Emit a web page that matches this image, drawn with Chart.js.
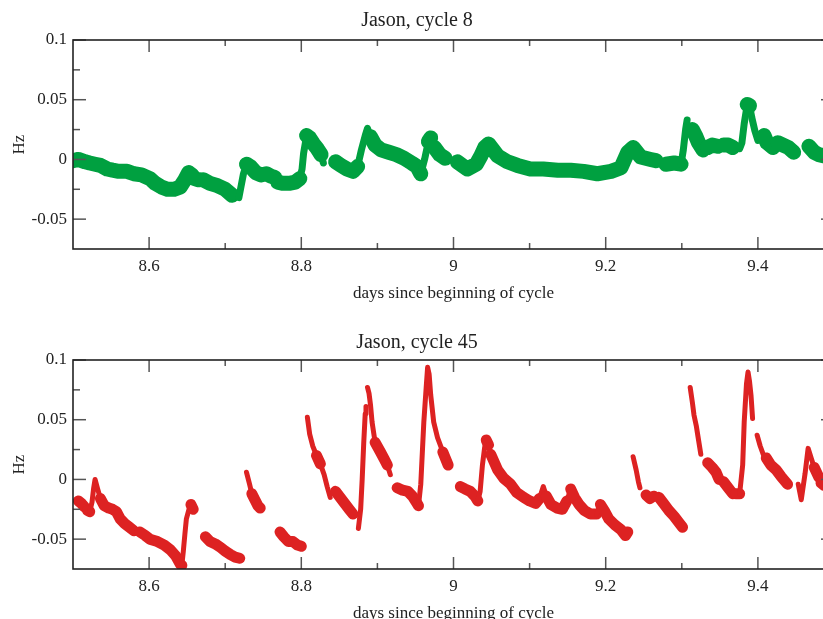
<!DOCTYPE html>
<html>
<head>
<meta charset="utf-8">
<script src="https://cdn.jsdelivr.net/npm/chart.js@4.4.1/dist/chart.umd.min.js"></script>
<style>
  html, body { margin: 0; padding: 0; background: #fff; overflow: hidden; }
  #page { position: relative; width: 823px; height: 619px; overflow: hidden; }
  .panel { position: absolute; left: 0; width: 834px; }
  #top { top: 0; height: 310px; }
  #bottom { top: 310px; height: 320px; }
</style>
</head>
<body>
<div id="page">
  <div class="panel" id="top"><canvas id="cycle8Chart" width="834" height="310"></canvas></div>
  <div class="panel" id="bottom"><canvas id="cycle45Chart" width="834" height="320"></canvas></div>
</div>
<script>
// ---- DATA (null = no readings in that stretch) ----
const cycle8Days = [
  8.500, 8.507, 8.516, 8.522, 8.529, 8.536, 8.545, 8.552, 8.560, 8.571, 8.580, 8.590, 8.601, 8.608, 8.616, 8.624, 8.633, 8.641, 8.647, 8.652, 8.656, 8.660, 8.665, 8.668,
  8.671, 8.680, 8.690, 8.700, 8.709, 8.713,
  8.718, 8.721, 8.724, 8.728, 8.733, 8.740, 8.747, 8.754, 8.760, 8.765, 8.767,
  8.769, 8.776, 8.784, 8.792, 8.798, 8.801, 8.803, 8.807, 8.811, 8.816, 8.821, 8.826, 8.829, 8.837,
  8.845, 8.852, 8.860, 8.868, 8.874, 8.879, 8.884, 8.887, 8.891, 8.897, 8.905, 8.915, 8.925, 8.935, 8.945, 8.952, 8.957, 8.962, 8.967, 8.970, 8.975, 8.982, 8.989, 8.997,
  9.005, 9.018, 9.030, 9.036, 9.041, 9.046, 9.052, 9.058, 9.071, 9.084, 9.101, 9.118, 9.137, 9.154, 9.171, 9.189, 9.207, 9.220, 9.229, 9.236, 9.246, 9.259, 9.266, 9.272,
  9.279, 9.290, 9.299, 9.302, 9.305, 9.307, 9.310,
  9.314, 9.318, 9.322, 9.328, 9.331,
  9.334, 9.340, 9.347, 9.351,
  9.355, 9.361, 9.367, 9.372,
  9.376, 9.379, 9.382, 9.386, 9.389, 9.392, 9.396, 9.400, 9.404,
  9.408, 9.412, 9.420, 9.423,
  9.426, 9.433, 9.440, 9.447, 9.457,
  9.467, 9.474, 9.480, 9.487, 9.495
];
const cycle8Hz = [
  -0.001, 0.000, -0.002, -0.003, -0.004, -0.005, -0.008, -0.009, -0.010, -0.010, -0.012, -0.013, -0.016, -0.020, -0.023, -0.025, -0.025, -0.023, -0.017, -0.011, -0.013, -0.016, -0.017, null,
  -0.017, -0.020, -0.022, -0.025, -0.030, null,
  -0.032, -0.022, -0.012, -0.004, -0.006, -0.011, -0.013, -0.012, -0.014, -0.015, null,
  -0.019, -0.020, -0.020, -0.019, -0.016, -0.008, 0.005, 0.020, 0.018, 0.013, 0.009, 0.004, -0.003, null,
  -0.002, -0.005, -0.008, -0.010, -0.006, 0.008, 0.020, 0.026, 0.019, 0.012, 0.008, 0.006, 0.004, 0.001, -0.003, -0.006, -0.012, 0.000, 0.015, 0.018, 0.010, 0.004, 0.001, null,
  -0.002, -0.008, -0.004, 0.003, 0.010, 0.013, 0.008, 0.003, -0.002, -0.005, -0.008, -0.008, -0.009, -0.009, -0.010, -0.012, -0.010, -0.007, 0.006, 0.010, 0.002, 0.000, -0.001, null,
  -0.004, -0.003, -0.004, 0.008, 0.025, 0.033, null,
  0.025, 0.020, 0.014, 0.008, null,
  0.010, 0.012, 0.011, null,
  0.012, 0.012, 0.010, null,
  0.009, 0.014, 0.030, 0.046, 0.045, 0.035, 0.024, 0.016, null,
  0.020, 0.014, 0.010, null,
  0.014, 0.012, 0.010, 0.006, null,
  0.011, 0.006, 0.004, 0.003, 0.002
];

const cycle45Days = [
  8.507, 8.511, 8.515, 8.517,
  8.519, 8.522, 8.525, 8.527, 8.529, 8.532, 8.536, 8.541, 8.547, 8.552, 8.557, 8.562, 8.568, 8.574, 8.580, 8.584,
  8.588, 8.595, 8.601, 8.611, 8.620, 8.628, 8.635, 8.641, 8.643, 8.645, 8.647, 8.649, 8.652, 8.655, 8.658, 8.666,
  8.674, 8.680, 8.687, 8.694, 8.700, 8.707, 8.713, 8.719, 8.724,
  8.728, 8.732, 8.735, 8.739, 8.743, 8.746, 8.760,
  8.772, 8.777, 8.783, 8.789, 8.795, 8.800, 8.804,
  8.808, 8.811, 8.815, 8.820, 8.825, 8.830, 8.834, 8.838, 8.842,
  8.845, 8.851, 8.857, 8.863, 8.868, 8.872,
  8.875, 8.878, 8.880, 8.882, 8.884, 8.885, 8.886,
  8.887, 8.889, 8.891, 8.893, 8.897, 8.904, 8.909, 8.913, 8.917, 8.922,
  8.926, 8.933, 8.940, 8.946, 8.952, 8.954, 8.957, 8.961, 8.964, 8.966, 8.968, 8.970, 8.974, 8.979, 8.986, 8.993, 9.000,
  9.009, 9.015, 9.022, 9.028, 9.032, 9.035, 9.038, 9.041, 9.043, 9.046, 9.049, 9.058, 9.066, 9.075, 9.083, 9.092, 9.100, 9.108, 9.113, 9.118, 9.122, 9.128,
  9.136, 9.143, 9.149, 9.154, 9.159, 9.165, 9.172, 9.180, 9.188, 9.193, 9.198, 9.204, 9.212, 9.220, 9.226, 9.229, 9.232,
  9.236, 9.240, 9.243, 9.245, 9.249,
  9.253, 9.258, 9.263, 9.266,
  9.270, 9.276, 9.283, 9.290, 9.296, 9.301, 9.306,
  9.311, 9.314, 9.316, 9.319, 9.321, 9.325, 9.330,
  9.334, 9.340, 9.345, 9.349, 9.352,
  9.355, 9.361, 9.367, 9.369,
  9.371, 9.376, 9.380, 9.382, 9.385, 9.387, 9.389, 9.391, 9.393, 9.396,
  9.399, 9.403, 9.407, 9.409,
  9.411, 9.417, 9.424, 9.431, 9.439, 9.446,
  9.453, 9.457, 9.462, 9.466, 9.470, 9.474, 9.480, 9.483, 9.487, 9.495
];
const cycle45Hz = [
  -0.018, -0.020, -0.023, null,
  -0.026, -0.027, -0.019, -0.008, 0.000, -0.007, -0.016, -0.022, -0.024, -0.025, -0.027, -0.033, -0.037, -0.040, -0.043, null,
  -0.044, -0.047, -0.050, -0.052, -0.055, -0.059, -0.064, -0.071, -0.072, -0.060, -0.046, -0.033, -0.026, -0.021, -0.025, null,
  -0.048, -0.052, -0.054, -0.057, -0.060, -0.063, -0.065, -0.066, null,
  0.006, -0.004, -0.012, -0.017, -0.022, -0.024, null,
  -0.044, -0.048, -0.052, -0.052, -0.055, -0.056, null,
  0.052, 0.038, 0.028, 0.020, 0.013, 0.004, -0.006, -0.015, null,
  -0.010, -0.015, -0.020, -0.025, -0.029, null,
  -0.041, -0.025, 0.000, 0.030, 0.055, 0.061, null,
  0.077, 0.072, 0.062, 0.048, 0.031, 0.023, 0.017, 0.012, 0.004, null,
  -0.007, -0.009, -0.010, -0.014, -0.020, -0.022, -0.004, 0.048, 0.076, 0.094, 0.088, 0.071, 0.048, 0.035, 0.023, 0.012, null,
  -0.006, -0.008, -0.010, -0.014, -0.018, -0.010, 0.012, 0.027, 0.033, 0.029, 0.021, 0.008, 0.001, -0.004, -0.011, -0.015, -0.018, -0.020, -0.016, -0.006, -0.014, -0.021,
  -0.024, -0.025, -0.018, -0.008, -0.015, -0.021, -0.026, -0.029, -0.029, -0.021, -0.026, -0.033, -0.038, -0.042, -0.047, -0.044, null,
  0.019, 0.008, -0.002, -0.007, null,
  -0.013, -0.016, -0.014, null,
  -0.015, -0.020, -0.026, -0.031, -0.036, -0.040, null,
  0.077, 0.064, 0.054, 0.045, 0.037, 0.021, null,
  0.014, 0.010, 0.006, 0.000, null,
  -0.002, -0.007, -0.012, null,
  -0.012, -0.012, 0.012, 0.048, 0.080, 0.090, 0.082, 0.070, 0.051, null,
  0.037, 0.028, 0.021, null,
  0.018, 0.012, 0.008, 0.002, -0.004, null,
  -0.004, -0.017, 0.005, 0.026, 0.018, 0.010, 0.002, -0.003, -0.005, -0.006
];

const xTickLabels = [8.6, 8.8, 9, 9.2, 9.4];
const xMinorTicks = [8.7, 8.9, 9.1, 9.3];
const yTickLabels = [-0.05, 0, 0.05, 0.1];
const yMinorTicks = [-0.025, 0.025, 0.075];

// ---- STYLE ----
const serif = "'Liberation Serif', 'Times New Roman', serif";
const ink = '#222';

// inward ticks on all four sides plus the frame
const frameTicks = {
    id: 'frameTicks',
    afterDatasetsDraw(chart) {
        const { ctx, chartArea: a, scales: { x, y } } = chart;
        const line = (x0, y0, x1, y1) => {
            ctx.beginPath();
            ctx.moveTo(x0, y0);
            ctx.lineTo(x1, y1);
            ctx.stroke();
        };
        ctx.save();
        ctx.strokeStyle = '#555';
        ctx.lineWidth = 1.5;
        xTickLabels.forEach(v => {
            const px = x.getPixelForValue(v);
            line(px, a.top, px, a.top + 12);
            line(px, a.bottom, px, a.bottom - 12);
        });
        xMinorTicks.forEach(v => {
            const px = x.getPixelForValue(v);
            line(px, a.top, px, a.top + 6);
            line(px, a.bottom, px, a.bottom - 6);
        });
        yTickLabels.forEach(v => {
            const py = y.getPixelForValue(v);
            line(a.left, py, a.left + 13, py);
            line(a.right, py, a.right - 13, py);
        });
        yMinorTicks.forEach(v => {
            const py = y.getPixelForValue(v);
            line(a.left, py, a.left + 7, py);
            line(a.right, py, a.right - 7, py);
        });
        ctx.strokeStyle = ink;
        ctx.lineWidth = 1.6;
        ctx.strokeRect(a.left, a.top, a.right - a.left, a.bottom - a.top);
        ctx.restore();
    }
};

function buildChart(canvasId, titleText, titleTop, titleBottom, days, hz, color, wide, narrow) {
    const points = days.map((d, i) => ({ x: d, y: hz[i] }));
    return new Chart(document.getElementById(canvasId), {
        type: 'line',
        data: {
            datasets: [{
                data: points,
                borderColor: color,
                backgroundColor: color,
                pointRadius: 0,
                spanGaps: false,
                tension: 0,
                borderCapStyle: 'round',
                borderJoinStyle: 'round',
                borderWidth: wide,
                segment: {
                    // steep rises/decays are thinner than the noisy plateaus
                    borderWidth: c => {
                        const dx = Math.abs(c.p1.x - c.p0.x);
                        const dy = Math.abs(c.p1.y - c.p0.y);
                        return dy > 2.5 * dx ? narrow : wide;
                    }
                }
            }]
        },
        options: {
            responsive: false,
            animation: false,
            layout: { padding: 0 },
            plugins: {
                legend: { display: false },
                tooltip: { enabled: false },
                title: {
                    display: true,
                    text: titleText,
                    color: ink,
                    font: { family: serif, size: 20, weight: 'normal' },
                    padding: { top: titleTop, bottom: titleBottom }
                }
            },
            scales: {
                x: {
                    type: 'linear',
                    min: 8.5,
                    max: 9.5,
                    grid: { display: false, drawTicks: false },
                    border: { display: false },
                    afterBuildTicks: s => { s.ticks = xTickLabels.map(v => ({ value: v })); },
                    afterFit: s => { s.height = 61; },
                    ticks: {
                        color: ink,
                        padding: 7,
                        maxRotation: 0,
                        autoSkip: false,
                        font: { family: serif, size: 17 },
                        callback: v => String(v)
                    },
                    title: {
                        display: true,
                        text: 'days since beginning of cycle',
                        color: ink,
                        font: { family: serif, size: 17 },
                        padding: { top: 0, bottom: 6 }
                    }
                },
                y: {
                    min: -0.075,
                    max: 0.1,
                    grid: { display: false, drawTicks: false },
                    border: { display: false },
                    afterBuildTicks: s => { s.ticks = yTickLabels.map(v => ({ value: v })); },
                    afterFit: s => { s.width = 73; },
                    ticks: {
                        color: ink,
                        padding: 6,
                        autoSkip: false,
                        font: { family: serif, size: 17 },
                        callback: v => String(v)
                    },
                    title: {
                        display: true,
                        text: 'Hz',
                        color: ink,
                        font: { family: serif, size: 17 },
                        padding: { top: 9, bottom: 0 }
                    }
                }
            }
        },
        plugins: [frameTicks]
    });
}

buildChart('cycle8Chart', 'Jason, cycle 8', 9, 7, cycle8Days, cycle8Hz, '#00a040', 15, 7);
buildChart('cycle45Chart', 'Jason, cycle 45', 21, 5, cycle45Days, cycle45Hz, '#dd2222', 11, 5);
</script>
</body>
</html>
